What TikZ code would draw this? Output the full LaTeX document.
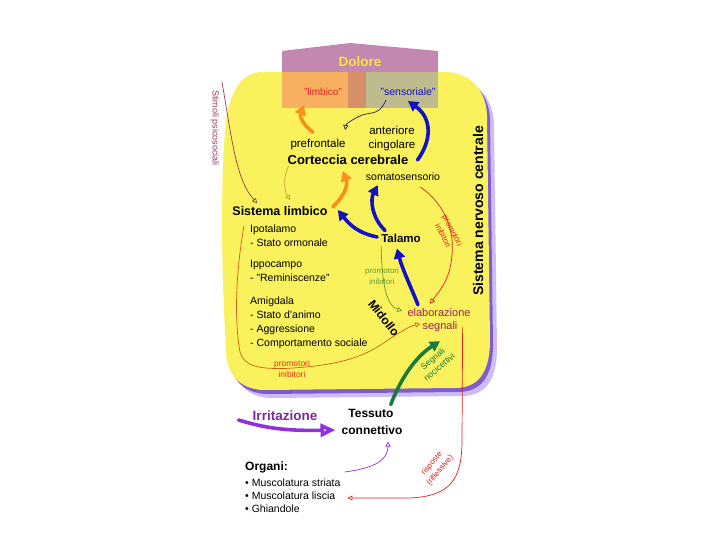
\documentclass[tikz,border=0pt]{standalone}
\usepackage{fontspec}
\setmainfont{Liberation Sans}
\usetikzlibrary{arrows.meta,calc}
\definecolor{yel}{HTML}{F9F25C}
\definecolor{shdark}{HTML}{7E5AD4}
\definecolor{shlight}{HTML}{CDBDF2}
\definecolor{mauve}{HTML}{C388B0}
\definecolor{orng}{HTML}{F6B060}
\definecolor{ovl}{HTML}{D69068}
\definecolor{khaki}{HTML}{BEBB8E}
\definecolor{doltxt}{HTML}{F8E33A}
\definecolor{bluearr}{HTML}{1212C4}
\definecolor{orangearr}{HTML}{F88E1C}
\definecolor{greenarr}{HTML}{1C7A3C}
\definecolor{purplearr}{HTML}{9030E0}
\definecolor{navy}{HTML}{202060}
\definecolor{maroon}{HTML}{9C3A5A}
\definecolor{olive}{HTML}{C8A030}
\definecolor{brorange}{HTML}{D06010}
\definecolor{redl}{HTML}{E02020}
\definecolor{greenl}{HTML}{6E9A2A}
\definecolor{elabc}{HTML}{A0205A}
\definecolor{irrc}{HTML}{7A2A9A}
\tikzset{
  blobpath/.style={insert path={(262,72) -- (445,72) .. controls (470,72) and (486,90) .. (487,115) -- (490,340) .. controls (490,374) and (477,388) .. (455,388) -- (265,390) .. controls (240,390) and (226,374) .. (226,350) .. controls (222,280) and (220,200) .. (225,130) .. controls (228,95) and (240,72) .. (262,72) -- cycle}},
  txt/.style={inner sep=0pt, font=\fontsize{10.5}{14}\selectfont, align=left},
  btxt/.style={inner sep=0pt, font=\bfseries\fontsize{12}{14}\selectfont},
  small/.style={inner sep=0pt, font=\fontsize{8}{10.5}\selectfont, align=center},
  thickarr/.style={line width=3.6pt, line cap=round, -{Triangle[length=10pt,width=11pt]}},
  thinarr/.style={line width=0.7pt, -{Triangle[open,length=5pt,width=5pt]}},
}
\begin{document}
\begin{tikzpicture}[x=1pt,y=-1pt]
\useasboundingbox (0,0) rectangle (720,540);
\fill[white] (0,0) rectangle (720,540);
% blob with shadow
\fill[shlight, shift={(7,8)}, blobpath];
\fill[shdark, shift={(3,4)}, blobpath];
\fill[yel, blobpath];
% top boxes
\fill[mauve] (282,51) -- (350,43) -- (438,51) -- (438,72) -- (282,72) -- cycle;
\fill[orng] (282,72) rectangle (348,108);
\fill[ovl] (348,72) rectangle (366,108);
\fill[khaki] (366,72) rectangle (438,108);

% nodes
\node[btxt, text=doltxt, font=\bfseries\fontsize{13.5}{15}\selectfont] (dolore) at (360,62) {Dolore};
\node[txt, font=\fontsize{10}{12}\selectfont, text=redl] (limb) at (323,92) {"limbico"};
\node[txt, text=bluearr] (sens) at (408,92) {"sensoriale"};
\node[txt, font=\fontsize{11.5}{14}\selectfont] (ant) at (392,130) {anteriore};
\node[txt, font=\fontsize{11.5}{14}\selectfont] (cing) at (392,146) {cingolare};
\node[txt, font=\fontsize{11.5}{14}\selectfont] (pref) at (318,145) {prefrontale};
\node[btxt, font=\bfseries\fontsize{13}{15}\selectfont] (cort) at (348,160) {Corteccia cerebrale};
\node[txt] (soma) at (403,177) {somatosensorio};
\node[btxt, font=\bfseries\fontsize{12.5}{15}\selectfont] (slimb) at (280,211) {Sistema limbico};
\node[txt, anchor=north west] (ipo) at (250,225) {Ipotalamo\\- Stato ormonale};
\node[txt, anchor=north west] (ippo) at (250,260) {Ippocampo\\- "Reminiscenze"};
\node[txt, anchor=north west] (amig) at (250,297) {Amigdala\\- Stato d'animo\\- Aggressione\\- Comportamento sociale};
\node[btxt, font=\bfseries\fontsize{11.5}{13}\selectfont] (talamo) at (401,238) {Talamo};
\node[btxt, rotate=-52] (midollo) at (384,318) {Midollo};
\node[txt, font=\fontsize{11}{13}\selectfont, text=elabc] (elab) at (439,313) {elaborazione};
\node[txt, font=\fontsize{11}{13}\selectfont, text=elabc] (segn) at (440,327) {segnali};
\node[small, text=greenarr, font=\fontsize{8.5}{10}\selectfont, rotate=40] (nocic) at (436,363) {Segnali\\nocicettivi};
\node[small, text=redl!80!orange, font=\fontsize{8.5}{11}\selectfont] (promo1) at (292,368.5) {promotori\\inibitori};
\node[small, text=greenl] (promo2) at (382,276) {promotori\\inibitori};
\node[small, text=redl, rotate=-62] (promo3) at (448,233) {promotori\\inibitori};
\node[small, text=maroon, font=\fontsize{9}{10}\selectfont, rotate=-90] (stimoli) at (215,128) {Stimoli psicosociali};
\node[btxt, font=\bfseries\fontsize{14}{16}\selectfont, rotate=90] (snc) at (478,211) {Sistema nervoso centrale};
\node[btxt, text=irrc, font=\bfseries\fontsize{13.5}{15}\selectfont] (irr) at (285,416) {Irritazione};
\node[btxt] (tess) at (371,413) {Tessuto};
\node[btxt] (conn) at (372,430) {connettivo};
\node[btxt, anchor=west] (organi) at (245,467) {Organi:};
\node[txt, anchor=west] (b1) at (245,483) {\textbullet\ Muscolatura striata};
\node[txt, anchor=west] (b2) at (245,496) {\textbullet\ Muscolatura liscia};
\node[txt, anchor=west] (b3) at (245,509) {\textbullet\ Ghiandole};
\node[small, text=redl, rotate=50] (risp) at (436,467) {risposte\\(riflessive)};
\coordinate (stimtop) at (222,82);

% thin connectors
\draw[thinarr, navy] ($(sens.south)+(-22,4)$) .. controls (378,118) and (370,110) .. (358,117) .. controls (350,121) and (346,124) .. ($(ant.west)+(-24,0)$);
\draw[thinarr, maroon] (stimtop) .. controls (232,140) and (236,180) .. ($(slimb.north west)+(25,-3)$);
\draw[thinarr, olive] ($(cort.west)+(1,6)$) .. controls (283,178) and (284,190) .. ($(slimb.north)+(10,-6)$);
\draw[thinarr, brorange] ($(ipo.north west)+(-6,1)$) .. controls (236,270) and (234,320) .. (240,352) .. controls (244,366) and (258,369) .. (285,368.5) .. controls (330,366) and (360,360) .. (385,342) .. controls (400,332) and (410,326) .. ($(segn.west)+(-2,-3)$);
\draw[thinarr, greenl] ($(talamo.south west)+(0,3)$) .. controls (382,280) and (385,305) .. ($(elab.west)+(-5,-2)$);
\draw[thinarr, redl] ($(soma.south east)+(-20,6)$) .. controls (440,200) and (455,225) .. (452,255) .. controls (450,280) and (440,290) .. ($(elab.north)+(-9,-5)$);
\draw[thinarr, redl] ($(segn.east)+(5,0)$) -- (462,440) .. controls (462,480) and (450,496) .. (410,498) -- ($(b2.east)+(12,2)$);
\draw[thinarr, purplearr] ($(b1.east)+(4,-11)$) .. controls (375,468) and (388,460) .. ($(conn.south)+(16,7)$);

% thick arrows
\draw[thickarr, orangearr] ($(pref.north)+(-5,-7)$) .. controls (300,122) and (300,115) .. ($(limb.south)+(-19,9)$);
\draw[thickarr, orangearr] ($(slimb.east)+(5,-4)$) .. controls (345,195) and (348,185) .. ($(cort.south)+(-5,6)$);
\draw[thickarr, bluearr] ($(cort.east)+(9,0)$) .. controls (432,140) and (432,118) .. ($(sens.south)+(0,5)$);
\draw[thickarr, bluearr] ($(talamo.west)+(-4,-1)$) .. controls (358,233) and (350,225) .. ($(slimb.east)+(10,-1)$);
\draw[thickarr, bluearr] ($(talamo.north west)+(4,-3)$) .. controls (372,218) and (370,200) .. ($(soma.south west)+(12,4)$);
\draw[thickarr, bluearr] ($(elab.north)+(-21,-4)$) .. controls (410,285) and (402,268) .. ($(talamo.south)+(-4,6)$);
\draw[thickarr, greenarr] ($(tess.north east)+(-3,-4)$) .. controls (402,375) and (418,355) .. ($(segn.south)+(0,9)$);
\draw[line width=3.6pt, line cap=round, purplearr, -{Triangle[open,length=15pt,width=13pt]}] ($(irr.west)+(-14,4)$) .. controls (265,428) and (285,431) .. ($(conn.west)+(-6,0)$);
\end{tikzpicture}
\end{document}
